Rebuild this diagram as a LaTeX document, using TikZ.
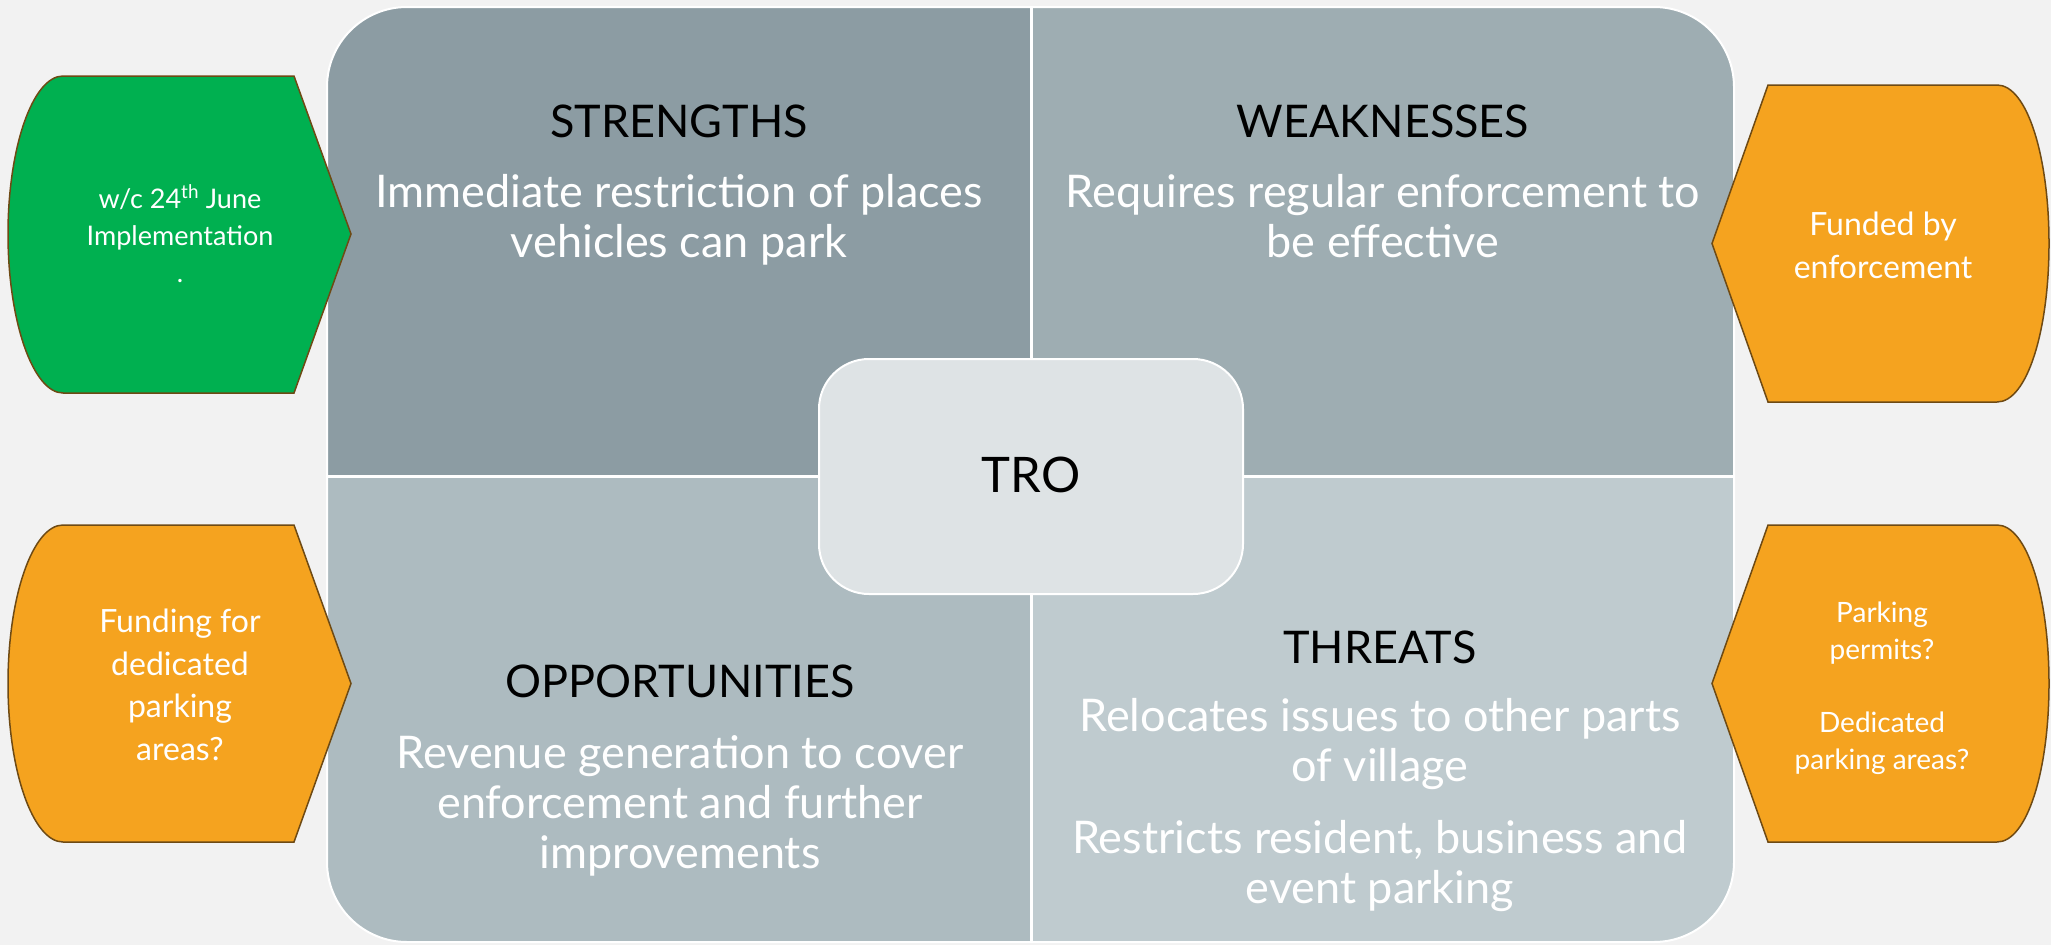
\documentclass[tikz,border=0pt]{standalone}
\usepackage{fontspec}
\setmainfont{Lato}
\definecolor{bgc}{HTML}{F2F2F2}
\definecolor{qs}{HTML}{8C9CA3}
\definecolor{qw}{HTML}{9EADB2}
\definecolor{qo}{HTML}{ADBBC0}
\definecolor{qt}{HTML}{BFCBCF}
\definecolor{qc}{HTML}{DEE3E5}
\definecolor{gfill}{HTML}{00B050}
\definecolor{ofill}{HTML}{F5A31F}
\definecolor{brd}{HTML}{6E4A14}
\begin{document}
\begin{tikzpicture}[x=1pt,y=-1pt,
  head/.style={font=\fontsize{45}{50}\selectfont, text=black, anchor=base, inner sep=0pt, align=center},
  body/.style={font=\fontsize{45}{50}\selectfont, text=white, anchor=base, inner sep=0pt, align=center},
  sidebox/.style={draw=brd, line width=1.5pt, line join=miter},
  sidetext/.style={text=white, anchor=base, inner sep=0pt, align=center}]
% background
\fill[bgc] (0,0) rectangle (2051,945);
\useasboundingbox (0,0) rectangle (2051,945);
% quadrants
\begin{scope}
  \clip[rounded corners=80pt] (327,7) rectangle (1734,942);
  \fill[qs] (327,7) rectangle (1031,476);
  \fill[qw] (1031,7) rectangle (1734,476);
  \fill[qo] (327,476) rectangle (1031,942);
  \fill[qt] (1031,476) rectangle (1734,942);
\end{scope}
\draw[white, line width=2pt, rounded corners=80pt] (327,7) rectangle (1734,942);
\draw[white, line width=3pt] (1031,7) -- (1031,942);
\draw[white, line width=3pt] (327,476) -- (1734,476);
% centre
\draw[white, line width=2pt, fill=qc, rounded corners=50pt] (819,359) rectangle (1243,594);
\node[font=\fontsize{49}{54}\selectfont, anchor=base, inner sep=0pt] (tro) at (1031,492) {TRO};
% quadrant texts (base anchor = baseline of the last line)
\node[head] (sh) at (679,137) {STRENGTHS};
\node[body] (sb) at (679,257) {Immediate restriction of places\\vehicles can park};
\node[head] (wh) at (1383,137) {WEAKNESSES};
\node[body] (wb) at (1383,257) {Requires regular enforcement to\\be effective};
\node[head] (oh) at (680,697) {OPPORTUNITIES};
\node[body] (ob) at (680,868) {Revenue generation to cover\\enforcement and further\\improvements};
\node[head] (th) at (1380,663) {THREATS};
\node[body] (tb) at (1380,903) {Relocates issues to other parts\\of village\\[22pt]Restricts resident, business and\\event parking};
% side shapes
\draw[sidebox, fill=gfill] (294,76) -- (351,234) -- (294,393) -- (63,393)
  .. controls (33,393) and (8,321) .. (8,234) .. controls (8,147) and (33,76) .. (63,76) -- cycle;
\draw[sidebox, fill=ofill] (294,525) -- (351,683.5) -- (294,842) -- (63,842)
  .. controls (33,842) and (8,771) .. (8,683.5) .. controls (8,596) and (33,525) .. (63,525) -- cycle;
\draw[sidebox, fill=ofill] (1768,85) -- (1997,85)
  .. controls (2027,85) and (2049,156) .. (2049,243.5) .. controls (2049,331) and (2027,402) .. (1997,402)
  -- (1768,402) -- (1712,243.5) -- cycle;
\draw[sidebox, fill=ofill] (1768,525) -- (1997,525)
  .. controls (2027,525) and (2049,596) .. (2049,683.5) .. controls (2049,771) and (2027,842) .. (1997,842)
  -- (1768,842) -- (1712,683.5) -- cycle;
% side texts
\node[sidetext, font=\fontsize{27}{37}\selectfont] (g1) at (180,282) {w/c 24\textsuperscript{th} June\\Implementation\\.};
\node[sidetext, font=\fontsize{32}{43}\selectfont] (o1) at (1883,278) {Funded by\\enforcement};
\node[sidetext, font=\fontsize{32}{42.5}\selectfont] (o2) at (180,760) {Funding for\\dedicated\\parking\\areas?};
\node[sidetext, font=\fontsize{28}{36.5}\selectfont] (o3) at (1882,769) {Parking\\permits?\\[37pt]Dedicated\\parking areas?};
\end{tikzpicture}
\end{document}
